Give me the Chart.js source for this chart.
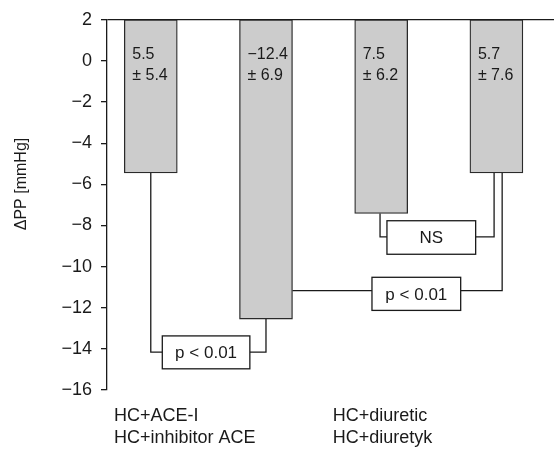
<!DOCTYPE html>
<html>
<head>
<meta charset="utf-8">
<script src="https://cdn.jsdelivr.net/npm/chart.js@4.4.1/dist/chart.umd.min.js"></script>
<style>
  html, body { margin: 0; padding: 0; background: #fff; }
  #wrap { width: 554px; height: 453px; }
</style>
</head>
<body>
<div id="wrap"><canvas id="ppChart"></canvas></div>
<script>
// bars hang from the top line (y = 2) down to the mean change
const barPos = [1, 2, 3, 4];
const barTop = 2;
const barValues = [-5.45, -12.55, -7.42, -5.45];
const meanLabels = ['5.5', '\u221212.4', '7.5', '5.7'];
const sdLabels = ['\u00b1 5.4', '\u00b1 6.9', '\u00b1 6.2', '\u00b1 7.6'];

const groupLabels = [['HC+ACE-I', 'HC+inhibitor ACE'], ['HC+diuretic', 'HC+diuretyk']];
const groupLabelPos = [0.68, 2.58];

// comparison brackets (data units)
const cmpText = ['p < 0.01', 'NS', 'p < 0.01'];
const cmpLeftX = [1, 2.99, 2.23];
const cmpRightX = [2, 3.98, 4.05];
const cmpLevel = [-14.16, -8.55, -11.17];
const cmpLeftTop = [-5.45, -7.42, -11.17];
const cmpRightTop = [-12.55, -5.45, -5.45];
const cmpBoxX = [[1.1, 1.86], [3.05, 3.82], [2.92, 3.69]];
const cmpBoxY = [[-13.37, -14.97], [-7.77, -9.4], [-10.52, -12.13]];

const yTitle = '\u0394PP [mmHg]';

const FONT = "'Liberation Sans', Arial, sans-serif";
const INK = '#1a1a1a';

// text inside the bars
const barTextPlugin = {
  id: 'barText',
  afterDatasetsDraw: (chart) => {
    const ctx = chart.ctx;
    const meta = chart.getDatasetMeta(0);
    ctx.save();
    ctx.font = '16px ' + FONT;
    ctx.fillStyle = INK;
    ctx.textAlign = 'left';
    ctx.textBaseline = 'alphabetic';
    meta.data.forEach((bar, i) => {
      const top = Math.min(bar.y, bar.base);
      const left = bar.x - bar.width / 2 + 8;
      ctx.fillText(meanLabels[i], left, top + 39);
      ctx.fillText(sdLabels[i], left, top + 60);
    });
    ctx.restore();
  }
};

// brackets with boxed p-values
const bracketPlugin = {
  id: 'brackets',
  afterDatasetsDraw: (chart) => {
    const ctx = chart.ctx;
    const xs = chart.scales.x;
    const ys = chart.scales.y;
    ctx.save();
    ctx.strokeStyle = INK;
    ctx.lineWidth = 1.3;
    cmpText.forEach((txt, i) => {
      const xl = xs.getPixelForValue(cmpLeftX[i]);
      const xr = xs.getPixelForValue(cmpRightX[i]);
      const yl = ys.getPixelForValue(cmpLevel[i]);
      const bx0 = xs.getPixelForValue(cmpBoxX[i][0]);
      const bx1 = xs.getPixelForValue(cmpBoxX[i][1]);
      const by0 = ys.getPixelForValue(cmpBoxY[i][0]);
      const by1 = ys.getPixelForValue(cmpBoxY[i][1]);
      ctx.beginPath();
      ctx.moveTo(xl, ys.getPixelForValue(cmpLeftTop[i]));
      ctx.lineTo(xl, yl);
      ctx.lineTo(bx0, yl);
      ctx.moveTo(bx1, yl);
      ctx.lineTo(xr, yl);
      ctx.lineTo(xr, ys.getPixelForValue(cmpRightTop[i]));
      ctx.stroke();
      ctx.fillStyle = '#fff';
      ctx.fillRect(bx0, by0, bx1 - bx0, by1 - by0);
      ctx.strokeRect(bx0, by0, bx1 - bx0, by1 - by0);
      ctx.fillStyle = INK;
      ctx.font = '17px ' + FONT;
      ctx.textAlign = 'center';
      ctx.textBaseline = 'middle';
      ctx.fillText(txt, (bx0 + bx1) / 2, (by0 + by1) / 2 + 1);
    });
    ctx.restore();
  }
};

// y axis title, sits a bit above the middle
const yTitlePlugin = {
  id: 'yTitle',
  afterDraw: (chart) => {
    const ctx = chart.ctx;
    ctx.save();
    ctx.translate(22, 184);
    ctx.rotate(-Math.PI / 2);
    ctx.font = '16px ' + FONT;
    ctx.fillStyle = INK;
    ctx.textAlign = 'center';
    ctx.textBaseline = 'middle';
    ctx.fillText(yTitle, 0, 0);
    ctx.restore();
  }
};

const ctx = document.getElementById('ppChart').getContext('2d');
new Chart(ctx, {
  type: 'bar',
  data: {
    datasets: [{
      data: barPos.map((p, i) => ({ x: p, y: [barTop, barValues[i]] })),
      backgroundColor: '#cccccc',
      borderColor: '#2a2a2a',
      borderWidth: 1.3,
      borderSkipped: false,
      barThickness: 53
    }]
  },
  options: {
    responsive: true,
    maintainAspectRatio: false,
    animation: false,
    layout: { padding: { top: 18, right: 0, bottom: 0, left: 0 } },
    plugins: {
      legend: { display: false },
      tooltip: { enabled: false }
    },
    scales: {
      x: {
        type: 'linear',
        offset: false,
        min: 0.62,
        max: 4.5,
        grid: { display: false, drawTicks: false, offset: false },
        border: { display: false },
        afterBuildTicks: (scale) => {
          scale.ticks = groupLabelPos.map(v => ({ value: v }));
        },
        afterFit: (scale) => { scale.height = 63; },
        ticks: {
          autoSkip: false,
          maxRotation: 0,
          align: 'start',
          padding: 15,
          color: INK,
          font: { family: FONT, size: 18, lineHeight: 1.22 },
          callback: (v, i) => groupLabels[i]
        }
      },
      y: {
        min: -16,
        max: 2,
        afterFit: (scale) => { scale.width = 107; },
        grid: {
          color: (c) => (c.tick && c.tick.value === 2 ? INK : 'rgba(0,0,0,0)'),
          lineWidth: 1.3,
          tickColor: INK,
          tickLength: 6
        },
        border: { display: true, color: INK, width: 1.3 },
        ticks: {
          stepSize: 2,
          padding: 9,
          color: INK,
          font: { family: FONT, size: 18 },
          callback: (v) => (v < 0 ? '\u2212' + Math.abs(v) : String(v))
        }
      }
    }
  },
  plugins: [barTextPlugin, bracketPlugin, yTitlePlugin]
});
</script>
</body>
</html>
